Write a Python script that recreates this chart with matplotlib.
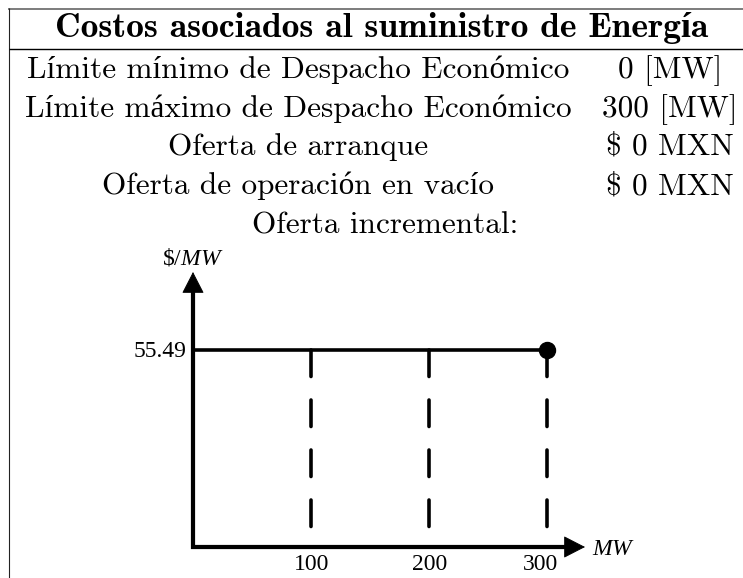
import matplotlib
matplotlib.use('Agg')
import matplotlib.pyplot as plt

# ---------------- data ----------------
title = 'Costos asociados al suministro de Energía'
row_labels = ['Límite mínimo de Despacho Económico',
              'Límite máximo de Despacho Económico',
              'Oferta de arranque',
              'Oferta de operación en vacío']
row_values = ['0 [MW]', '300 [MW]', '$ 0 MXN', '$ 0 MXN']
subtitle = 'Oferta incremental:'

price = 55.49                 # $/MW
block_ends = [100, 200, 300]  # MW
x_ticks = [100, 200, 300]
x_tick_labels = ['100', '200', '300']
y_tick_label = '55.49'
y_label = r'\$/$MW$'
x_label = r'$MW$'

# ---------------- figure ----------------
W, H, DPI = 743, 578, 100
plt.rcParams['lines.scale_dashes'] = False
plt.rcParams['mathtext.fontset'] = 'custom'
plt.rcParams['mathtext.rm'] = 'Liberation Serif'
plt.rcParams['mathtext.it'] = 'Liberation Serif:italic'

fig = plt.figure(figsize=(W / DPI, H / DPI), dpi=DPI)
fig.patch.set_facecolor('white')

bg = fig.add_axes([0, 0, 1, 1])
bg.set_xlim(0, W)
bg.set_ylim(H, 0)
bg.axis('off')

PT = 72.0 / DPI  # points per pixel

# table rules
bg.plot([8, W], [8.5, 8.5], color='#7f7f7f', lw=2.0 * PT, solid_capstyle='butt')
bg.plot([9, 9], [8, H], color='#222222', lw=1.1 * PT, solid_capstyle='butt')
bg.plot([9, W], [49, 49], color='black', lw=1.4 * PT, solid_capstyle='butt')

cm_fam = ['cmr10', 'Liberation Serif']
cmb_fam = ['cmb10', 'Liberation Serif']

TABLE_CX = 382
t = bg.text(TABLE_CX, 37, title, ha='center', va='baseline', family=cmb_fam,
            fontsize=23, fontweight='bold')
fig.canvas.draw()
r = fig.canvas.get_renderer()
wpx = t.get_window_extent(r).width
t.set_fontsize(23 * 653.0 / wpx)

row_base = [78, 117, 155, 194]
LEFT_CX, RIGHT_CX = 298, 670
fs_row = 22.5
for lab, val, yb in zip(row_labels, row_values, row_base):
    bg.text(LEFT_CX, yb, lab, ha='center', va='baseline', family=cm_fam, fontsize=fs_row)
    bg.text(RIGHT_CX, yb, val, ha='center', va='baseline', family=cm_fam, fontsize=fs_row)
bg.text(TABLE_CX + 3, 233, subtitle, ha='center', va='baseline', family=cm_fam, fontsize=fs_row)

# ---------------- chart axes ----------------
X0, Y0 = 193.0, 547.0     # pixel of origin
SX, SY = 1.18, 3.55       # px per unit
L, R, T, B = 110, 690, 238, 578
ax = fig.add_axes([L / W, (H - B) / H, (R - L) / W, (B - T) / H])
ax.set_xlim((L - X0) / SX, (R - X0) / SX)
ax.set_ylim((Y0 - B) / SY, (Y0 - T) / SY)
ax.axis('off')
ax.patch.set_alpha(0)

x_tip = (585 - X0) / SX
y_tip = (Y0 - 272) / SY
axis_lw = 4.2 * PT
head_len_px = 20.0
ax.plot([0, 0, x_tip - head_len_px / SX], [y_tip - head_len_px / SY, 0, 0],
        color='black', lw=axis_lw, solid_joinstyle='miter', solid_capstyle='butt')
arrowstyle = '-|>,head_length=1.4,head_width=0.72'
ax.annotate('', xy=(x_tip, 0), xytext=(x_tip - 30 / SX, 0),
            arrowprops=dict(arrowstyle=arrowstyle, color='black', lw=0.6,
                            mutation_scale=10, shrinkA=0, shrinkB=0))
ax.annotate('', xy=(0, y_tip), xytext=(0, y_tip - 30 / SY),
            arrowprops=dict(arrowstyle=arrowstyle, color='black', lw=0.6,
                            mutation_scale=10, shrinkA=0, shrinkB=0))

# offer curve
xs = [0] + block_ends
ax.plot(xs, [price] * len(xs), color='black', lw=3.6 * PT, solid_capstyle='butt')
dash_lw = 3.6 * PT
for xb in block_ends:
    ax.plot([xb, xb], [price, 0], color='black', lw=dash_lw,
            dashes=(26.5 * PT, 23.5 * PT), dash_capstyle='round')
ax.plot([block_ends[-1]], [price], 'o', color='black', ms=16 * PT)

# labels
lab_font = dict(family='Liberation Serif', fontsize=17)
x_off = {100: 1, 200: 1, 300: -7}
for xv, s in zip(x_ticks, x_tick_labels):
    ax.annotate(s, xy=(xv, 0), xytext=(x_off[xv] * PT, -23 * PT), textcoords='offset points',
                ha='center', va='baseline', **lab_font)
ax.annotate(y_tick_label, xy=(0, price), xytext=(-7 * PT, -7 * PT), textcoords='offset points',
            ha='right', va='baseline', **lab_font)
ax.annotate(y_label, xy=(0, y_tip), xytext=(0, 8 * PT), textcoords='offset points',
            ha='center', va='baseline', **lab_font)
ax.annotate(x_label, xy=(x_tip, 0), xytext=(7 * PT, -8 * PT), textcoords='offset points',
            ha='left', va='baseline', **lab_font)

fig.savefig('out.png', dpi=DPI, facecolor='white')
